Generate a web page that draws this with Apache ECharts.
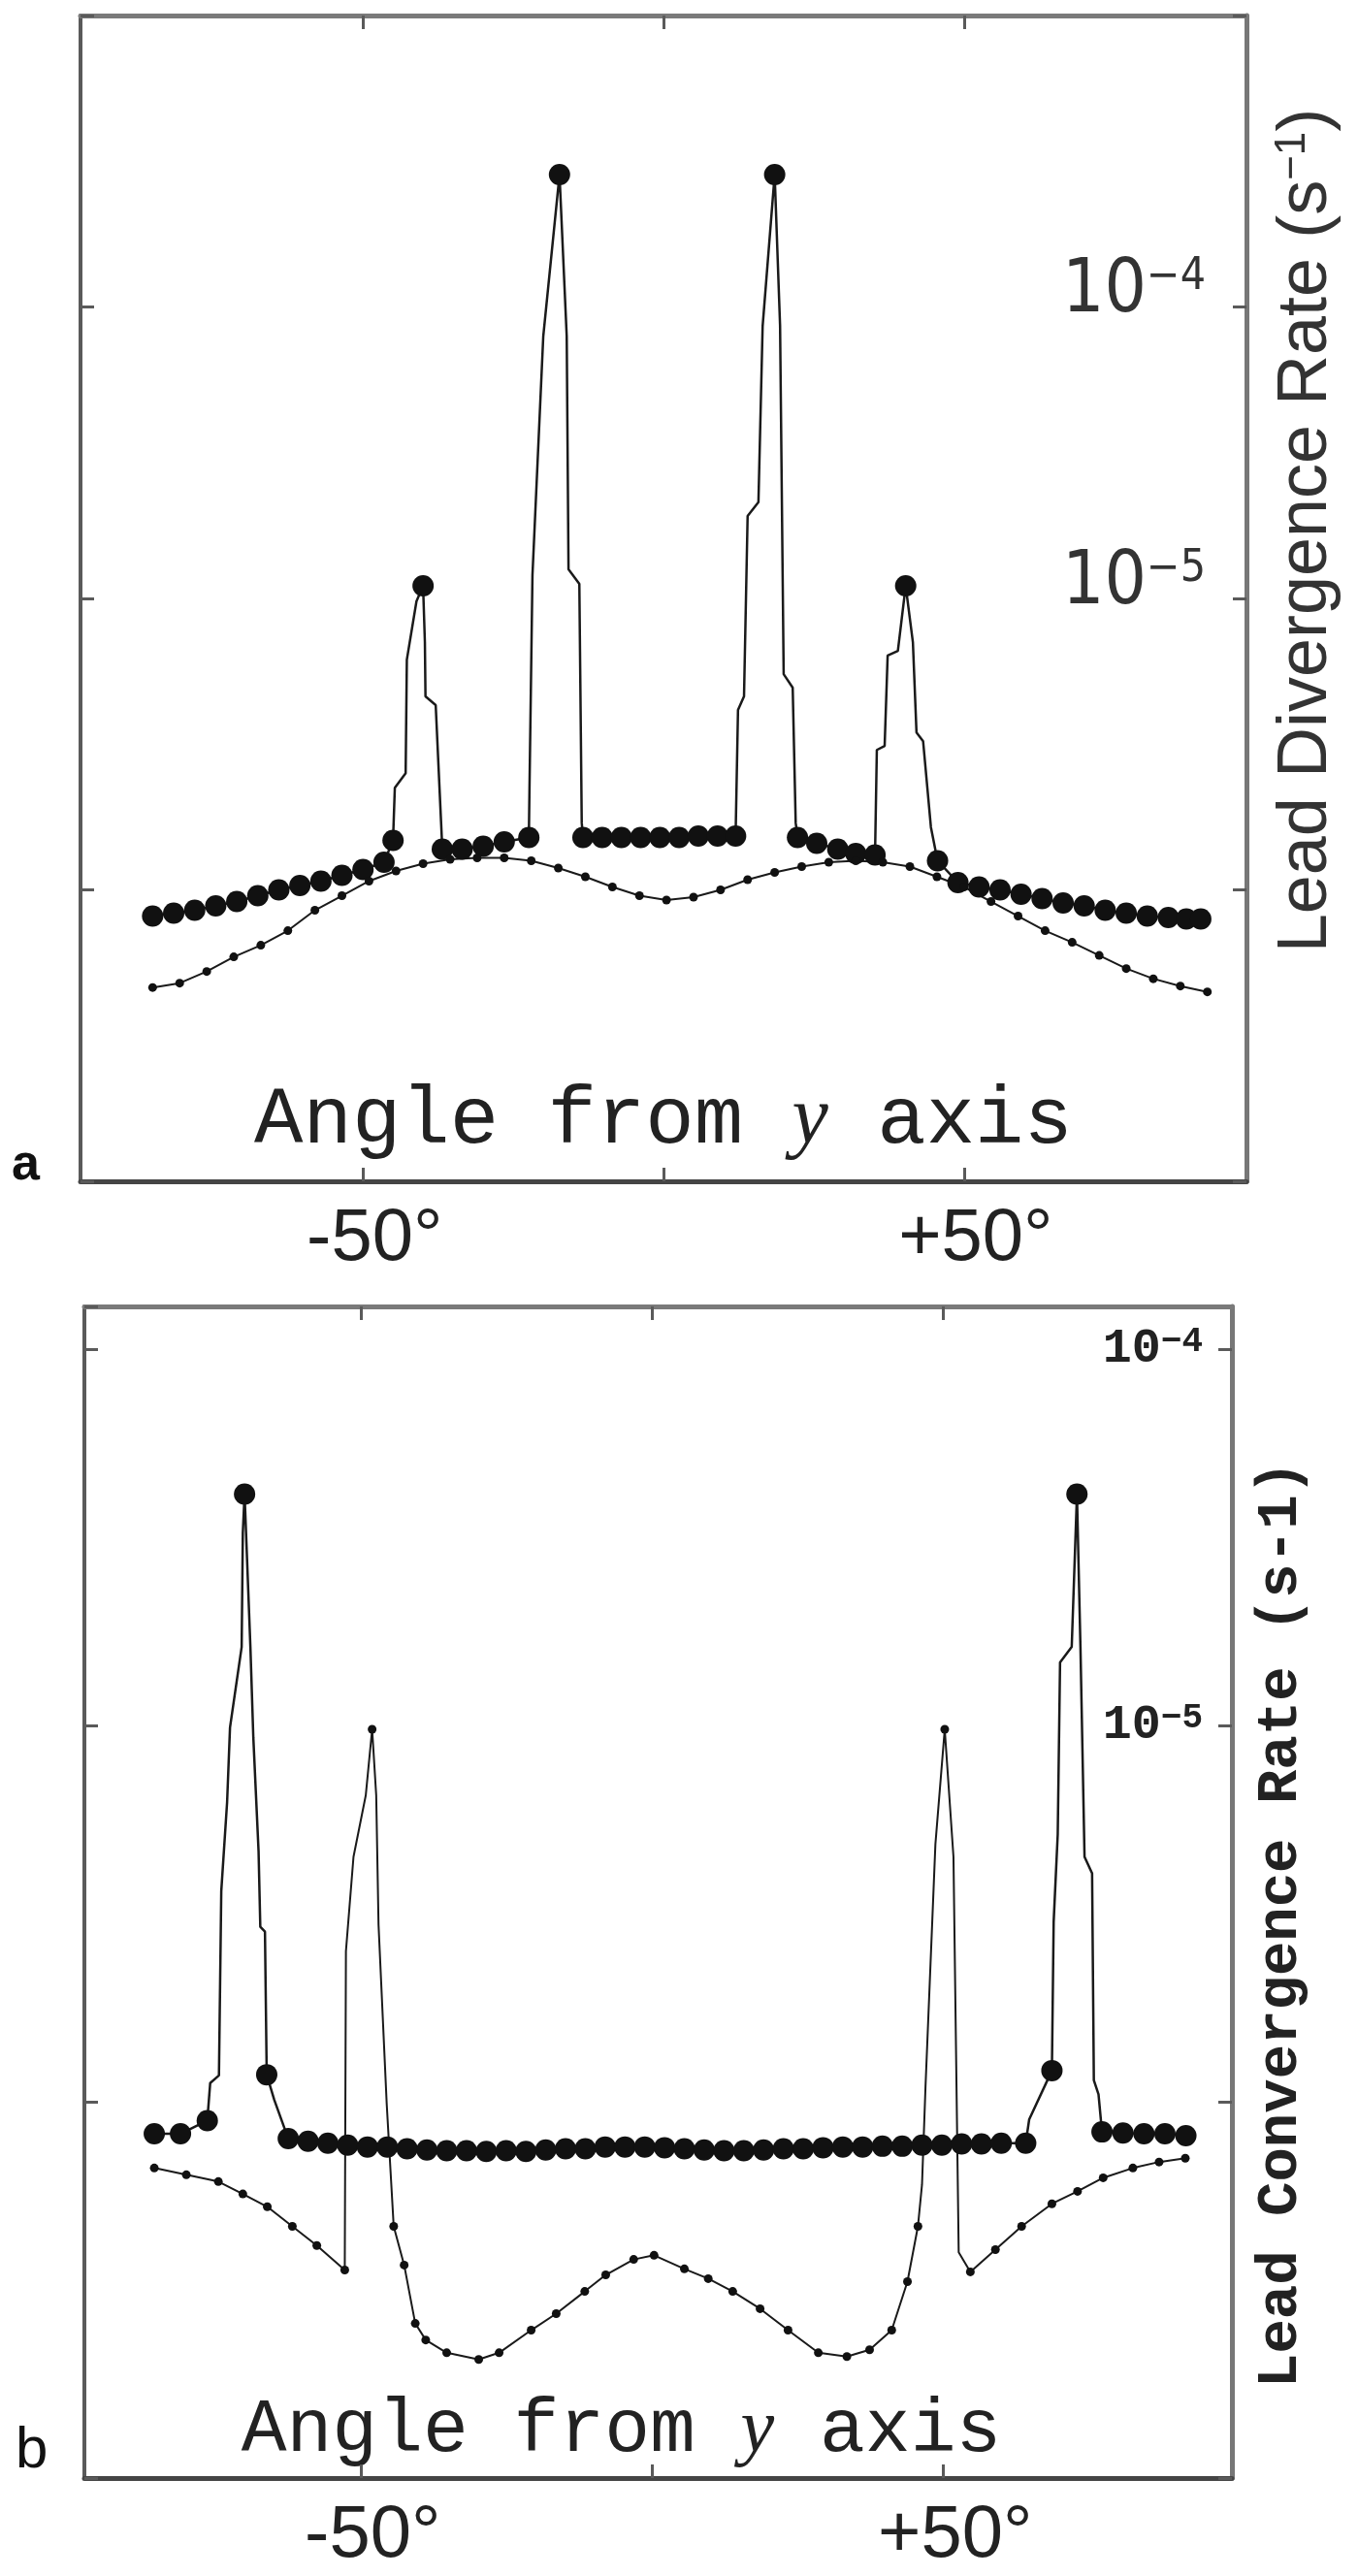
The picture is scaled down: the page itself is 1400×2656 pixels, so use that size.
<!DOCTYPE html>
<html>
<head>
<meta charset="utf-8">
<title>Lead divergence / convergence rate vs angle</title>
<script src="https://cdn.jsdelivr.net/npm/echarts@6.0.0/dist/echarts.min.js"></script>
<style>
  html, body { margin: 0; padding: 0; background: #fff; }
  #chart { width: 1400px; height: 2656px; }
</style>
</head>
<body>
<div id="chart"></div>
<script>
// angle from the y axis (deg) and rate read as log10 (s^-1) against the decade ticks
const xTicks = [-50, 0, 50];
const xLabels = [-50, 50];
const labelledDecades = [-4, -5];

// ---- panel a : lead divergence rate ----
const aXRange = [-97, 97];
const aYRange = [-7, -3];
// big filled markers
const aThick = [
  [-85, -6.09], [-81.5, -6.08], [-78, -6.07], [-74.5, -6.055], [-71, -6.04], [-67.5, -6.02],
  [-64, -6.0], [-60.5, -5.985], [-57, -5.97], [-53.5, -5.95], [-50, -5.93], [-46.5, -5.905],
  [-45, -5.83], [-40, -4.957], [-36.8, -5.86], [-33.5, -5.86], [-30, -5.85], [-26.5, -5.835],
  [-22.4, -5.82], [-17.3, -3.546], [-13.4, -5.82], [-10.2, -5.82], [-7.0, -5.82], [-3.8, -5.82],
  [-0.6, -5.82], [2.6, -5.82], [5.8, -5.815], [9.0, -5.815], [12.0, -5.815], [18.5, -3.546],
  [22.3, -5.82], [25.5, -5.84], [29, -5.86], [32, -5.875], [35.2, -5.88], [40.3, -4.957],
  [45.6, -5.9], [49, -5.975], [52.5, -5.99], [56, -6.0], [59.5, -6.015], [63, -6.03],
  [66.5, -6.045], [70, -6.055], [73.5, -6.07], [77, -6.08], [80.5, -6.09], [84, -6.095],
  [87, -6.1], [89.4, -6.1]
];
// kinks along the spike flanks (no marker)
const aThickSpikes = [
  [-44.7, -5.65], [-42.9, -5.6], [-42.7, -5.21], [-41.1, -5.01],
  [-39.7, -5.15], [-39.6, -5.336], [-37.9, -5.366], [-37.0, -5.77],
  [-22.3, -5.66], [-21.8, -4.92], [-20.0, -4.1],
  [-16.1, -4.1], [-15.8, -4.9], [-14.0, -4.95], [-13.6, -5.77],
  [12.4, -5.383], [13.4, -5.336], [14.0, -4.717], [15.8, -4.67], [16.5, -4.065],
  [19.4, -4.065], [20.0, -5.26], [21.5, -5.306], [22.0, -5.77],
  [35.5, -5.52], [36.8, -5.506], [37.3, -5.196], [39.0, -5.18],
  [41.5, -5.15], [42.1, -5.46], [43.2, -5.49], [44.5, -5.785]
];
// small dots
const aThin = [
  [-85, -6.335], [-80.5, -6.32], [-76, -6.28], [-71.5, -6.23], [-67, -6.19], [-62.5, -6.14],
  [-58, -6.07], [-53.5, -6.02], [-49, -5.97], [-44.5, -5.935], [-40, -5.91], [-35.5, -5.895],
  [-31, -5.89], [-26.5, -5.89], [-22, -5.9], [-17.5, -5.925], [-13, -5.955], [-8.5, -5.99],
  [-4, -6.02], [0.5, -6.035], [5, -6.025], [9.5, -6.0], [14, -5.965], [18.5, -5.94],
  [23, -5.92], [27.5, -5.905], [32, -5.9], [36.5, -5.905], [41, -5.92], [45.5, -5.955],
  [50, -5.99], [54.5, -6.04], [59, -6.09], [63.5, -6.14], [68, -6.18], [72.5, -6.225],
  [77, -6.27], [81.5, -6.305], [86, -6.33], [90.5, -6.35]
];

// ---- panel b : lead convergence rate ----
const bXRange = [-97.5, 99.5];
const bYRange = [-7, -3.886];
const bThick = [
  [-85.5, -6.085], [-81.0, -6.085], [-76.4, -6.05], [-70.0, -4.385], [-66.2, -5.928], [-62.5, -6.098],
  [-59.1, -6.105], [-55.7, -6.11], [-52.3, -6.115], [-48.9, -6.12], [-45.5, -6.12], [-42.1, -6.125],
  [-38.7, -6.128], [-35.3, -6.13], [-31.9, -6.13], [-28.5, -6.132], [-25.1, -6.13], [-21.7, -6.132],
  [-18.3, -6.128], [-14.9, -6.125], [-11.5, -6.125], [-8.1, -6.12], [-4.7, -6.12], [-1.3, -6.12],
  [2.1, -6.122], [5.5, -6.125], [8.9, -6.128], [12.3, -6.13], [15.7, -6.13], [19.1, -6.128],
  [22.5, -6.125], [25.9, -6.125], [29.3, -6.122], [32.7, -6.12], [36.1, -6.12], [39.5, -6.118],
  [42.9, -6.118], [46.3, -6.115], [49.7, -6.115], [53.1, -6.112], [56.5, -6.112], [59.9, -6.11],
  [64.1, -6.11], [68.6, -5.917], [72.9, -4.385], [77.2, -6.08], [80.8, -6.083], [84.4, -6.085],
  [88.0, -6.085], [91.6, -6.09]
];
const bThickSpikes = [
  [-75.9, -5.95], [-74.4, -5.93], [-74.0, -5.44], [-73.0, -5.204], [-72.5, -5.005], [-70.5, -4.791], [-70.3, -4.488],
  [-69.0, -4.791], [-68.5, -5.031], [-67.6, -5.333], [-67.3, -5.535], [-66.5, -5.548],
  [-64.9, -5.995],
  [64.7, -6.047],
  [68.9, -5.522], [69.6, -5.289], [70.0, -4.832], [72.0, -4.791],
  [73.5, -4.791], [74.2, -5.349], [75.5, -5.393], [75.8, -5.943], [76.6, -5.98]
];
const bThin = [
  [-85.5, -6.176], [-80.0, -6.194], [-74.5, -6.212], [-70.3, -6.245], [-66.1, -6.279], [-61.8, -6.331],
  [-57.6, -6.382], [-52.8, -6.447], [-48.1, -5.01], [-44.4, -6.331], [-42.6, -6.434], [-40.7, -6.589],
  [-38.9, -6.633], [-35.3, -6.667], [-29.8, -6.685], [-26.3, -6.667], [-20.8, -6.607], [-16.5, -6.563],
  [-11.6, -6.504], [-8.0, -6.46], [-3.2, -6.419], [0.3, -6.408], [5.5, -6.444], [9.6, -6.47],
  [13.8, -6.504], [18.5, -6.55], [23.3, -6.607], [28.5, -6.667], [33.4, -6.677], [37.3, -6.659],
  [41.1, -6.607], [43.8, -6.478], [45.6, -6.331], [50.2, -5.01], [54.6, -6.452], [58.9, -6.393],
  [63.4, -6.331], [68.6, -6.271], [73.0, -6.238], [77.4, -6.202], [82.5, -6.176], [87.0, -6.16],
  [91.5, -6.15]
];
const bThinSpikes = [
  [-52.6, -5.6], [-51.3, -5.349], [-49.2, -5.186],
  [-47.4, -5.186], [-47.0, -5.53], [-45.6, -6.005],
  [46.3, -6.22], [46.9, -5.96], [48.6, -5.315],
  [51.7, -5.349], [52.6, -6.4]
];

const SANS = '"Liberation Sans", Arial, sans-serif';
const NARROW = '"Liberation Sans Narrow", "DejaVu Sans Condensed", "Liberation Sans", sans-serif';
const MONO = '"Liberation Mono", "DejaVu Sans Mono", monospace';
const INK = '#1a1a1a';
const FRAME = '#5a5a5a';

const toRate = pts => pts.map(p => [p[0], Math.pow(10, p[1])]);
const joinPath = (main, extra) => toRate(main.concat(extra).sort((p, q) => p[0] - q[0]));

function xAxisDef(gi, range, bottom, extra) {
  return Object.assign({
    type: 'value', gridIndex: gi, position: bottom ? 'bottom' : 'top',
    min: range[0], max: range[1],
    splitLine: { show: false },
    axisLine: { show: true, onZero: false, lineStyle: { color: bottom ? '#454545' : '#7a7a7a', width: 5 } },
    axisTick: { show: true, inside: true, length: 14, customValues: xTicks, lineStyle: { color: FRAME, width: 3 } },
    axisLabel: bottom ? {
      show: true, customValues: xLabels,
      formatter: v => (v > 0 ? '+' : '-') + Math.abs(v) + '°',
      fontFamily: SANS, fontSize: 76, color: '#222', margin: 22, padding: [0, 0, 0, 24]
    } : { show: false }
  }, extra || {});
}

function yAxisDef(gi, range, right, extra) {
  return Object.assign({
    type: 'log', logBase: 10, gridIndex: gi, position: right ? 'right' : 'left',
    min: Math.pow(10, range[0]), max: Math.pow(10, range[1]),
    splitLine: { show: false }, minorTick: { show: false },
    axisLine: { show: true, onZero: false, lineStyle: { color: right ? '#777' : FRAME, width: right ? 5 : 4 } },
    axisTick: { show: true, inside: true, length: 14, lineStyle: { color: FRAME, width: 3 } },
    axisLabel: { show: false }
  }, extra || {});
}

function decadeLabel(v) {
  const e = Math.round(Math.log10(v));
  return labelledDecades.indexOf(e) >= 0 ? '{b|10}{s|\u2212' + (-e) + '}' : '';
}

function panelSeries(gi, main, extra, size, width) {
  return [
    {
      type: 'line', xAxisIndex: gi * 2, yAxisIndex: gi * 2,
      data: joinPath(main, extra), symbol: 'none', silent: true, z: 2,
      lineStyle: { color: INK, width: width }
    },
    {
      type: 'scatter', xAxisIndex: gi * 2, yAxisIndex: gi * 2,
      data: toRate(main), symbolSize: size, silent: true, z: 3,
      itemStyle: { color: '#111', opacity: 1 }
    }
  ];
}

function angleName(size, gap, shiftLeft) {
  return {
    name: 'Angle from {i|y} axis', nameLocation: 'middle', nameGap: gap,
    nameTextStyle: {
      fontFamily: MONO, fontSize: size, color: '#222', padding: [0, shiftLeft, 0, 0],
      rich: { i: { fontFamily: '"Liberation Serif", serif', fontStyle: 'italic', fontSize: size, color: '#222' } }
    }
  };
}

const option = {
  backgroundColor: '#fff',
  animation: false,
  grid: [
    { left: 83, right: 115, top: 16, height: 1202, outerBoundsMode: 'none' },
    { left: 87, right: 130, top: 1347, height: 1208, outerBoundsMode: 'none' }
  ],
  xAxis: [
    xAxisDef(0, aXRange, true, angleName(84, -104, 0)),
    xAxisDef(0, aXRange, false),
    xAxisDef(1, bXRange, true, angleName(78, -88, 76)),
    xAxisDef(1, bXRange, false)
  ],
  yAxis: [
    yAxisDef(0, aYRange, true, {
      axisLabel: {
        show: true, inside: true, margin: 42, formatter: decadeLabel, padding: [0, 0, 30, 0],
        rich: {
          b: { fontFamily: NARROW, fontSize: 76, color: '#333' },
          s: { fontFamily: NARROW, fontSize: 46, color: '#333', verticalAlign: 'top' }
        }
      },
      name: 'Lead Divergence Rate (s{s|\u22121})', nameLocation: 'middle', nameGap: 26,
      nameTextStyle: {
        fontFamily: SANS, fontSize: 72, color: '#333', padding: [0, 0, 0, 140],
        rich: { s: { fontFamily: SANS, fontSize: 44, color: '#333', verticalAlign: 'top' } }
      }
    }),
    yAxisDef(0, aYRange, false),
    yAxisDef(1, bYRange, true, {
      axisLabel: {
        show: true, inside: true, margin: 30, formatter: decadeLabel,
        rich: {
          b: { fontFamily: MONO, fontWeight: 'bold', fontSize: 50, color: '#222' },
          s: { fontFamily: MONO, fontWeight: 'bold', fontSize: 36, color: '#222', verticalAlign: 'top' }
        }
      },
      name: 'Lead Convergence Rate (s-1)', nameLocation: 'middle', nameGap: 22,
      nameTextStyle: { fontFamily: MONO, fontWeight: 'bold', fontSize: 59, color: '#222', padding: [0, 66, 0, 0] }
    }),
    yAxisDef(1, bYRange, false)
  ],
  graphic: [
    { type: 'text', left: 12, top: 1176, style: { text: 'a', font: 'bold 52px "Liberation Sans"', fill: '#111' } },
    { type: 'text', left: 16, top: 2497, style: { text: 'b', font: '60px "Liberation Sans"', fill: '#111' } }
  ],
  series: [].concat(
    panelSeries(0, aThick, aThickSpikes, 22, 2.5),
    panelSeries(0, aThin, [], 9, 2),
    panelSeries(1, bThick, bThickSpikes, 22, 2.5),
    panelSeries(1, bThin, bThinSpikes, 9, 2)
  )
};

const chart = echarts.init(document.getElementById('chart'), null, { renderer: 'canvas' });
chart.setOption(option);
</script>
</body>
</html>
